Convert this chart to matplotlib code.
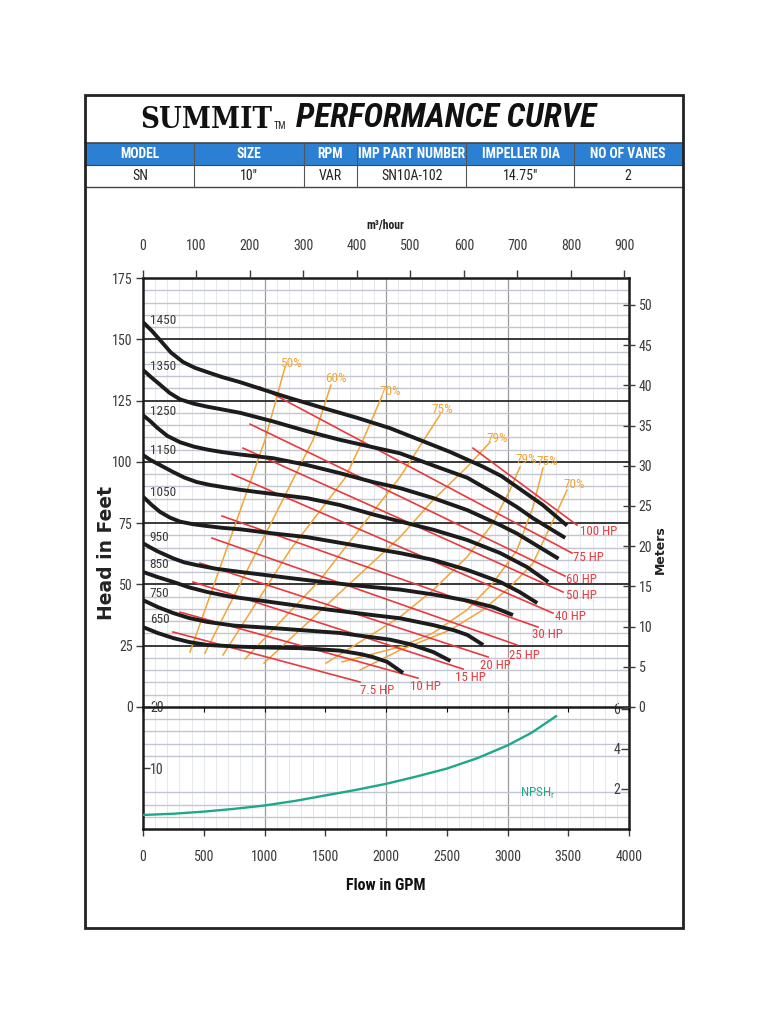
import os
import matplotlib
matplotlib.use('Agg')
import matplotlib.pyplot as plt
from matplotlib import font_manager as fm
from matplotlib.patches import Rectangle

# ---------------- fonts ----------------
_avail = {os.path.basename(f.fname).lower(): f.fname for f in fm.fontManager.ttflist}


def _font(files, family, weight='normal', style='normal'):
    for fn in files:
        if fn.lower() in _avail:
            return dict(fname=_avail[fn.lower()]), True
    return dict(family=family, weight=weight, style=style), False


NARROW, HAS_NARROW = _font(['LiberationSansNarrow-Regular.ttf', 'RobotoCondensed-Regular.ttf',
                            'DejaVuSansCondensed.ttf'], 'Liberation Sans')
NARROW_B, _ = _font(['LiberationSansNarrow-Bold.ttf', 'RobotoCondensed-Bold.ttf',
                     'DejaVuSansCondensed-Bold.ttf'], 'Liberation Sans', 'bold')
NARROW_BI, HAS_NBI = _font(['LiberationSansNarrow-BoldItalic.ttf', 'RobotoCondensed-BoldItalic.ttf',
                            'DejaVuSansCondensed-BoldOblique.ttf'], 'Liberation Sans', 'bold', 'italic')
SERIF_B, _ = _font(['DejaVuSerifCondensed-Bold.ttf', 'LiberationSerif-Bold.ttf'], 'Liberation Serif', 'bold')


def F(spec, size):
    return fm.FontProperties(size=size, **spec)


# ---------------- data ----------------
header_labels = ['MODEL', 'SIZE', 'RPM', 'IMP PART NUMBER', 'IMPELLER DIA', 'NO OF VANES']
header_values = ['SN', '10"', 'VAR', 'SN10A-102', '14.75"', '2']

flow_ticks_gpm = [0, 500, 1000, 1500, 2000, 2500, 3000, 3500, 4000]
flow_ticks_m3h = [0, 100, 200, 300, 400, 500, 600, 700, 800, 900]
head_ticks_ft = [0, 25, 50, 75, 100, 125, 150, 175]
head_ticks_m = [0, 5, 10, 15, 20, 25, 30, 35, 40, 45, 50]
npsh_ticks_ft = [10, 20]
npsh_ticks_m = [2, 4, 6]

speed_labels = ['1450', '1350', '1250', '1150', '1050', '950', '850', '750', '650']

Q1450 = [0, 70, 140, 230, 330, 430, 530, 650, 800, 1000, 1210, 1480, 1760, 2030, 2280, 2530, 2800,
         2950, 3080, 3290, 3490]
H1450 = [157, 153.6, 149.7, 144.6, 140.7, 138.3, 136.6, 134.6, 132.5, 129.3, 126, 122, 118, 113.8,
         108.9, 104, 98, 94.2, 89.7, 82.4, 74]
Q1350 = [0, 70, 140, 220, 305, 420, 530, 650, 800, 1070, 1350, 1620, 1890, 2115, 2390, 2670, 2940,
         3080, 3210, 3475]
H1350 = [137.5, 134.4, 131.5, 128.1, 125.5, 123.7, 122.5, 121.4, 120, 116.5, 112.5, 109, 106, 103.5,
         98.5, 93.5, 85.8, 81.5, 77, 69]
Q1250 = [0, 60, 115, 200, 305, 420, 530, 650, 800, 1070, 1350, 1620, 1890, 2115, 2390, 2670, 2940,
         3080, 3210, 3420]
H1250 = [119, 116.6, 114, 110.6, 108, 106.2, 105, 104, 103, 101.5, 98.7, 95.4, 91.8, 89.3, 85.2, 80.3,
         74.2, 70.7, 66.8, 60.5]
Q1150 = [0, 60, 140, 250, 340, 440, 550, 660, 800, 940, 1350, 1620, 1890, 2115, 2390, 2670, 2940,
         3160, 3335]
H1150 = [102.8, 100.8, 98.7, 95.8, 93.6, 91.8, 90.6, 89.7, 88.6, 87.7, 85.2, 82.4, 78.6, 75.7, 72.3,
         68.1, 62.8, 57.1, 51]
Q1050 = [0, 70, 140, 220, 305, 420, 530, 650, 800, 1070, 1350, 1620, 1890, 2115, 2390, 2670, 2940,
         3100, 3245]
H1050 = [85.8, 82.5, 79.6, 77.3, 75.6, 74.5, 73.8, 73.1, 72.5, 70.8, 69.3, 67.0, 64.7, 62.8, 60, 55.9,
         51, 46.9, 42.4]
Q950 = [0, 60, 120, 250, 340, 440, 600, 800, 1210, 1480, 1890, 2115, 2390, 2670, 2880, 3045]
H950 = [66.8, 65.1, 63.5, 60.6, 59.0, 57.9, 56.4, 55.1, 52.6, 51, 48.9, 47.9, 45.9, 43.4, 40.8, 37.5]
Q850 = [0, 120, 250, 380, 530, 720, 940, 1350, 1890, 2115, 2390, 2560, 2670, 2800]
H850 = [55.1, 53.0, 51, 48.8, 46.9, 45.0, 43.6, 40.8, 37.5, 36.2, 33.4, 31.3, 29.4, 25.3]
Q750 = [0, 120, 250, 380, 530, 750, 1070, 1620, 2030, 2200, 2390, 2530]
H750 = [43.6, 40.8, 38.3, 36.3, 34.7, 33.2, 32.2, 30.2, 27.5, 25.6, 22.4, 18.8]
Q650 = [0, 120, 250, 380, 530, 800, 1070, 1300, 1620, 1800, 1890, 2010, 2140]
H650 = [32.6, 30.2, 28.1, 26.5, 25.3, 24.6, 24.2, 24.0, 23.0, 21.5, 20.4, 18.4, 13.9]

speed_label_q = [55, 55, 55, 55, 55, 55, 55, 55, 55]
speed_label_h = [157.8, 138.7, 120.7, 104.8, 87.7, 69.3, 58.3, 46.5, 35.5]

hp_labels = ['100 HP', '75 HP', '60 HP', '50 HP', '40 HP', '30 HP', '25 HP', '20 HP', '15 HP', '10 HP', '7.5 HP']
hp_q_start = [2716, 963, 881, 823, 733, 650, 568, 469, 412, 305, 247]
hp_h_start = [105.6, 130.5, 115.4, 105.6, 95.0, 77.9, 68.9, 58.7, 51.0, 38.7, 30.6]
hp_q_end = [3572, 3531, 3473, 3457, 3374, 3251, 3078, 2840, 2634, 2263, 1786]
hp_h_end = [74.2, 62.8, 53.4, 46.9, 38.3, 32.6, 25.3, 20.4, 15.5, 11.8, 10.2]
hp_label_q = [3597, 3539, 3481, 3481, 3391, 3202, 3012, 2774, 2568, 2198, 1786]
hp_label_h = [71.4, 60.8, 52.2, 45.3, 37.1, 29.4, 21.2, 17.1, 12.2, 8.2, 6.9]

eff_labels = ['50%', '60%', '70%', '75%', '79%', '79%', '75%', '70%']
E50_Q = [387, 700, 1004, 1169]
E50_H = [22.4, 66.1, 108.9, 138.7]
E60_Q = [510, 963, 1399, 1547]
E60_H = [22.0, 66.1, 108.9, 131.3]
E70_Q = [658, 1210, 1663, 1811, 1967]
E70_H = [21.2, 64.0, 93.4, 108.9, 126.8]
E75_Q = [840, 1457, 2115, 2444]
E75_H = [19.6, 51.8, 93.8, 119.1]
E79A_Q = [996, 2115, 2387, 2667, 2856]
E79A_H = [17.9, 69.3, 84.4, 97.9, 108.0]
E79B_Q = [1506, 2115, 2387, 2667, 2881, 3020, 3103]
E79B_H = [17.9, 36.7, 47.7, 61.2, 75.0, 88.5, 97.9]
E75B_Q = [1638, 2115, 2387, 2667, 2881, 3078, 3210, 3292]
E75B_H = [18.4, 24.5, 30.2, 39.6, 50.6, 64.0, 81.6, 97.5]
E70B_Q = [1786, 2115, 2527, 2798, 3020, 3210, 3350, 3490]
E70B_H = [15.1, 23.2, 31.4, 39.6, 48.9, 58.7, 73.4, 88.5]
eff_label_q = [1218, 1588, 2033, 2461, 2914, 3152, 3325, 3547]
eff_label_h = [140.3, 134.2, 128.5, 121.5, 109.7, 101.1, 100.3, 90.9]

NPSH_Q = [0, 250, 500, 750, 1000, 1250, 1500, 1750, 2000, 2250, 2500, 2750, 3000, 3200, 3400]
NPSH_H = [2.3, 2.5, 2.85, 3.3, 3.85, 4.6, 5.5, 6.4, 7.4, 8.6, 9.9, 11.6, 13.7, 15.8, 18.5]

GPM_TO_M3H = 0.2271247
FT_TO_M = 0.3048

# ---------------- styles ----------------
BLUE = '#2b80d3'
BLACK = '#1c1c1c'
RED = '#e63a3f'
ORANGE = '#f2a436'
TEAL = '#1ea88b'
TXT = '#3a3a3a'
W, H = 768, 1024

fig = plt.figure(figsize=(W / 100, H / 100), dpi=100)
bg = fig.add_axes([0, 0, 1, 1])
bg.set_xlim(0, W)
bg.set_ylim(H, 0)
bg.axis('off')

# frame and header table
bg.add_patch(Rectangle((85, 95), 598, 833, fill=False, lw=2.0, ec='#222222', zorder=5))
bg.add_patch(Rectangle((85, 143), 598, 22, fc=BLUE, ec='none', zorder=1))
for yy, lw in [(143, 1.2), (165, 0.8), (187, 1.0)]:
    bg.plot([85, 683], [yy, yy], color='#444444', lw=lw, zorder=2)
col_sep = [194, 304, 357, 466, 574]
for xx in col_sep:
    bg.plot([xx, xx], [143, 187], color='#555555', lw=0.8, zorder=2)
col_centers = [140, 249, 330, 412, 521, 628]
for cx, lab, val in zip(col_centers, header_labels, header_values):
    bg.text(cx, 154.5, lab, color='white', ha='center', va='center', fontproperties=F(NARROW_B, 9.8))
    bg.text(cx, 176.5, val, color='#222222', ha='center', va='center', fontproperties=F(NARROW, 10))

bg.text(272, 119, 'SUMMIT', ha='right', va='center', color='#111111', fontproperties=F(SERIF_B, 21))
bg.text(274, 126, 'TM', ha='left', va='center', color='#222222', fontproperties=F(NARROW, 7))
bg.text(296, 118, 'PERFORMANCE CURVE', ha='left', va='center', color='#111111',
        fontproperties=F(NARROW_BI, 24 if HAS_NBI else 18.5))

# ---------------- main chart ----------------
L, R = 143 / W, 629 / W
axm = fig.add_axes([L, 1 - 707 / H, R - L, (707 - 278) / H])
axm.set_xlim(0, 4000)
axm.set_ylim(0, 175)
axm.set_zorder(3)
axm.set_facecolor('none')

for q in range(100, 4000, 100):
    if q % 1000 == 0:
        axm.axvline(q, color='#9a9a9a', lw=0.9, zorder=0)
    else:
        axm.axvline(q, color='#e6e8ec', lw=0.7, zorder=0)
for h in range(5, 175, 5):
    if h % 25 == 0:
        axm.axhline(h, color='#2a2a2a', lw=1.3, zorder=0.5)
    else:
        axm.axhline(h, color='#c2c6d0', lw=1.0, zorder=0.3)

eff_curves = [(E50_Q, E50_H), (E60_Q, E60_H), (E70_Q, E70_H), (E75_Q, E75_H),
              (E79A_Q, E79A_H), (E79B_Q, E79B_H), (E75B_Q, E75B_H), (E70B_Q, E70B_H)]
for (qq, hh) in eff_curves:
    axm.plot(qq, hh, color=ORANGE, lw=1.1, zorder=2, solid_joinstyle='round')
for lab, x, y in zip(eff_labels, eff_label_q, eff_label_h):
    axm.text(x, y, lab, color=ORANGE, ha='center', va='center', fontproperties=F(NARROW, 9.5), zorder=6)

for q0, h0, q1, h1 in zip(hp_q_start, hp_h_start, hp_q_end, hp_h_end):
    axm.plot([q0, q1], [h0, h1], color=RED, lw=1.2, zorder=3)
for lab, x, y in zip(hp_labels, hp_label_q, hp_label_h):
    axm.text(x, y, lab, color=RED, ha='left', va='center', fontproperties=F(NARROW, 9.3), zorder=6)

head_curves = [(Q1450, H1450), (Q1350, H1350), (Q1250, H1250), (Q1150, H1150), (Q1050, H1050),
               (Q950, H950), (Q850, H850), (Q750, H750), (Q650, H650)]
for (qq, hh) in head_curves:
    axm.plot(qq, hh, color=BLACK, lw=2.8, zorder=4, solid_capstyle='butt', solid_joinstyle='round')
for lab, x, y in zip(speed_labels, speed_label_q, speed_label_h):
    axm.text(x, y, lab, color=TXT, ha='left', va='center', fontproperties=F(NARROW, 9.5), zorder=6)

for s in ['left', 'right', 'top', 'bottom']:
    axm.spines[s].set_color('#1a1a1a')
    axm.spines[s].set_linewidth(1.8)
axm.set_yticks(head_ticks_ft)
axm.tick_params(axis='y', direction='out', length=5, width=1, pad=2.5, colors=TXT)
axm.tick_params(axis='x', bottom=False, labelbottom=False)
for lbl in axm.get_yticklabels():
    lbl.set_fontproperties(F(NARROW, 10))

# right meters axis
axr = axm.twinx()
axr.set_ylim(0, 175 * FT_TO_M)
axr.set_yticks(head_ticks_m)
axr.tick_params(axis='y', direction='inout', length=8, width=1, pad=3, colors=TXT)
for lbl in axr.get_yticklabels():
    lbl.set_fontproperties(F(NARROW, 10))
for s in axr.spines.values():
    s.set_visible(False)

# top m3/h axis
axt = axm.twiny()
axt.set_xlim(0, 4000 * GPM_TO_M3H)
axt.set_xticks(flow_ticks_m3h)
axt.tick_params(axis='x', direction='out', length=6, width=1, pad=12, colors=TXT)
for lbl in axt.get_xticklabels():
    lbl.set_fontproperties(F(NARROW, 10))
for s in axt.spines.values():
    s.set_visible(False)

# ---------------- NPSH panel ----------------
axn = fig.add_axes([L, 1 - 829 / H, R - L, (829 - 707) / H])
axn.set_xlim(0, 4000)
axn.set_ylim(0, 20)
axn.set_zorder(2)
for q in range(100, 4000, 100):
    if q % 1000 == 0:
        axn.axvline(q, color='#9a9a9a', lw=0.9, zorder=0)
    else:
        axn.axvline(q, color='#e6e8ec', lw=0.7, zorder=0)
for h in [2, 4, 6, 12, 14, 16, 18]:
    axn.axhline(h, color='#c2c6d0', lw=1.0, zorder=0.3)
axn.plot(NPSH_Q, NPSH_H, color=TEAL, lw=1.7, zorder=4)
axn.text(3100, 5.9, 'NPSH$_\\mathregular{r}$', color=TEAL, ha='left', va='center',
         fontproperties=F(NARROW, 9.5))
for s in ['left', 'right', 'bottom']:
    axn.spines[s].set_color('#1a1a1a')
    axn.spines[s].set_linewidth(1.8)
axn.spines['top'].set_visible(False)
axn.set_xticks(flow_ticks_gpm)
axn.tick_params(axis='x', direction='out', length=5, width=1, pad=10, colors=TXT)
for lbl in axn.get_xticklabels():
    lbl.set_fontproperties(F(NARROW, 10))
axn.set_yticks(npsh_ticks_ft)
axn.tick_params(axis='y', direction='in', length=5, width=1, pad=-5, colors=TXT)
for lbl in axn.get_yticklabels():
    lbl.set_fontproperties(F(NARROW, 10))
    lbl.set_horizontalalignment('left')

axnr = axn.twinx()
axnr.set_ylim(0, 20 * FT_TO_M)
axnr.set_yticks(npsh_ticks_m)
axnr.tick_params(axis='y', direction='in', length=6, width=1, pad=-6.5, colors=TXT)
for lbl in axnr.get_yticklabels():
    lbl.set_fontproperties(F(NARROW, 10))
    lbl.set_horizontalalignment('right')
for s in axnr.spines.values():
    s.set_visible(False)

# ---------------- axis titles ----------------
bg.text(385, 226, 'm³/hour', ha='center', va='center', color='#222222', fontproperties=F(NARROW_B, 8.5))
bg.text(107, 553, 'Head in Feet', rotation=90, ha='center', va='center', color='#222222',
        fontproperties=fm.FontProperties(family='DejaVu Sans', weight='bold', size=13.5))
bg.text(660, 550, 'Meters', rotation=90, ha='center', va='center', color='#222222',
        fontproperties=fm.FontProperties(family='DejaVu Sans', weight='bold', size=9))
bg.text(386, 886, 'Flow in GPM', ha='center', va='center', color='#111111', fontproperties=F(NARROW_B, 11.5))

fig.savefig('out.png', dpi=100, facecolor='white')
